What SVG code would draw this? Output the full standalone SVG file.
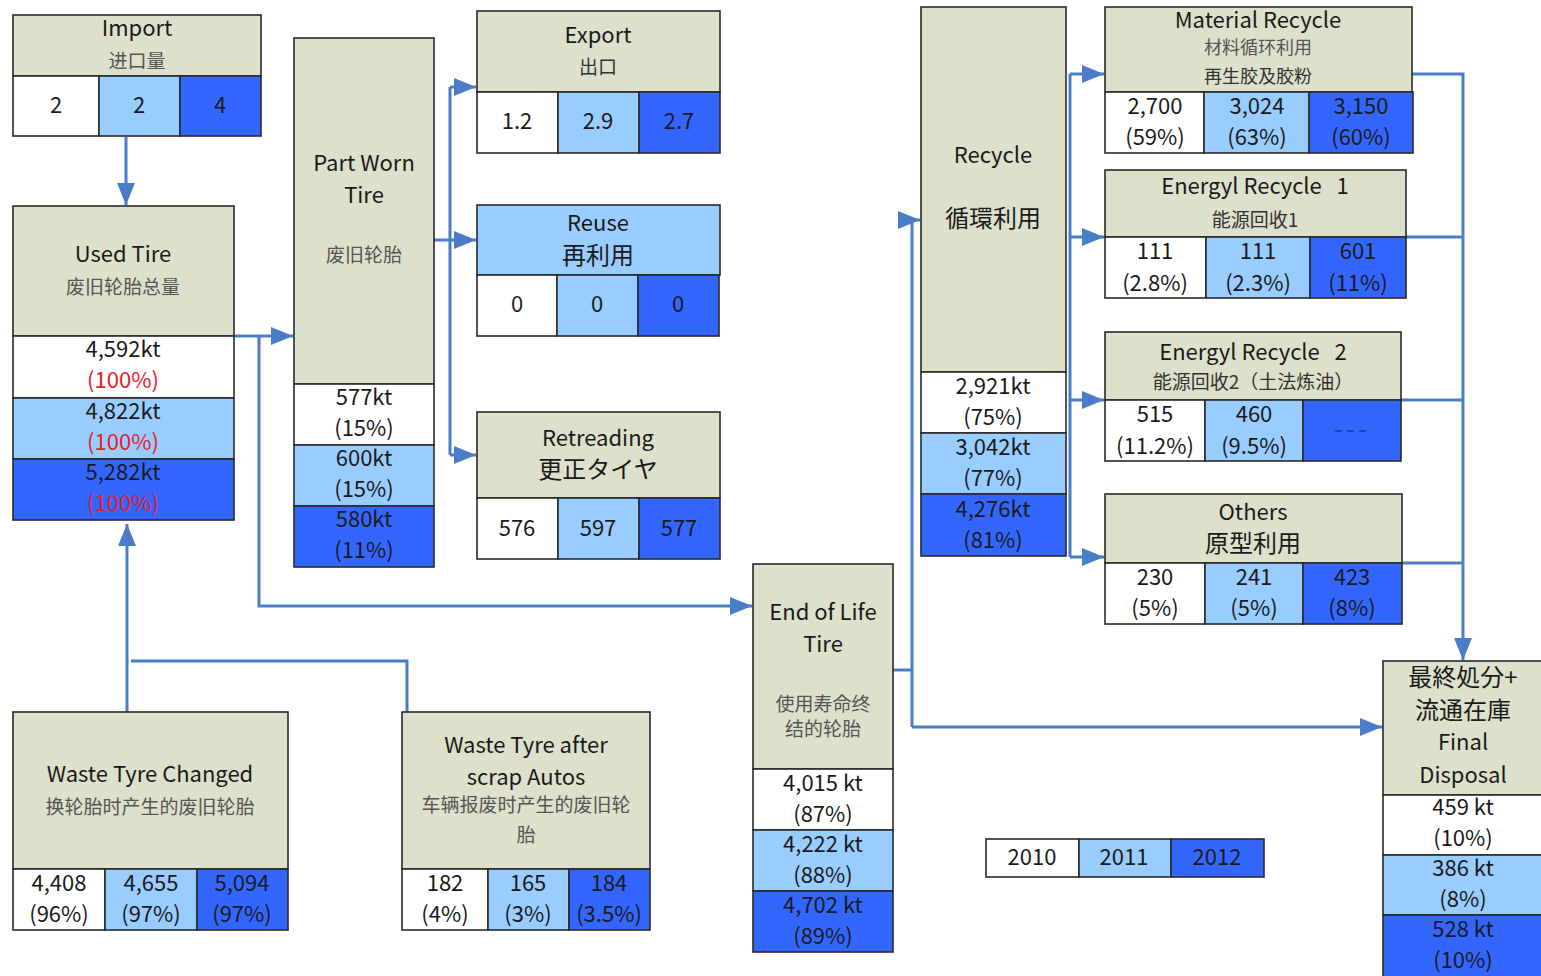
<svg xmlns="http://www.w3.org/2000/svg" width="1541" height="976" viewBox="0 0 1541 976">
<defs>
<style>
text{font-family:"Noto Sans CJK JP","Noto Sans CJK SC",sans-serif;text-anchor:middle;dominant-baseline:central;fill:#1a1a1a;font-size:22px;transform:translate(0px,-2px)}
.h{fill:#dde0cb;stroke:#2a2a2a;stroke-width:1.6}
.c0{fill:#ffffff;stroke:#2a2a2a;stroke-width:1.6}
.c1{fill:#99ccff;stroke:#2a2a2a;stroke-width:1.6}
.c2{fill:#3366ff;stroke:#2a2a2a;stroke-width:1.6}
.g{fill:#555;font-size:19px}
.d{fill:#333;font-size:19px}
.big{font-size:24px}
.red{fill:#e8202a}
.con path{fill:none;stroke:#4a7cc7;stroke-width:3}
</style>
<marker id="ah" markerUnits="userSpaceOnUse" markerWidth="22" markerHeight="18" refX="22" refY="9" orient="auto">
<path d="M0,0 L22,9 L0,18 z" fill="#4a7cc7"/>
</marker>
</defs>
<rect width="1541" height="976" fill="#ffffff"/>

<g class="con">
<path d="M126,137 V205" marker-end="url(#ah)"/>
<path d="M235,336 H293" marker-end="url(#ah)"/>
<path d="M259,336 V606 H752" marker-end="url(#ah)"/>
<path d="M434,240 H450"/>
<path d="M450,87 V455"/>
<path d="M450,87 H476" marker-end="url(#ah)"/>
<path d="M450,240 H476" marker-end="url(#ah)"/>
<path d="M450,455 H476" marker-end="url(#ah)"/>
<path d="M893,670 H912"/>
<path d="M912,727 V220 H920" marker-end="url(#ah)"/>
<path d="M912,727 H1382" marker-end="url(#ah)"/>
<path d="M1070,74 V557"/>
<path d="M1070,74 H1104" marker-end="url(#ah)"/>
<path d="M1070,237 H1104" marker-end="url(#ah)"/>
<path d="M1070,400 H1104" marker-end="url(#ah)"/>
<path d="M1070,557 H1104" marker-end="url(#ah)"/>
<path d="M1412,74 H1463 V660" marker-end="url(#ah)"/>
<path d="M1406,237 H1463"/>
<path d="M1401,400 H1463"/>
<path d="M1402,563 H1463"/>
<path d="M127,712 V524" marker-end="url(#ah)"/>
<path d="M407,712 V661 H131"/>
</g>

<g id="import">
<rect class="h" x="13" y="15" width="248" height="61"/>
<rect class="c0" x="13" y="76" width="86" height="60"/>
<rect class="c1" x="99" y="76" width="81" height="60"/>
<rect class="c2" x="180" y="76" width="81" height="60"/>
<text x="137" y="28">Import</text>
<text class="g" x="137" y="61">进口量</text>
<text x="56" y="105">2</text>
<text x="139" y="105">2</text>
<text x="220" y="105">4</text>
</g>

<g id="used-tire">
<rect class="h" x="13" y="206" width="221" height="130"/>
<rect class="c0" x="13" y="336" width="221" height="62"/>
<rect class="c1" x="13" y="398" width="221" height="61"/>
<rect class="c2" x="13" y="459" width="221" height="61"/>
<text x="123" y="254">Used Tire</text>
<text class="g" x="123" y="287">废旧轮胎总量</text>
<text x="123" y="349">4,592kt</text>
<text class="red" x="123" y="380">(100%)</text>
<text x="123" y="411">4,822kt</text>
<text class="red" x="123" y="442">(100%)</text>
<text x="123" y="472">5,282kt</text>
<text class="red" x="123" y="503">(100%)</text>
</g>

<g id="part-worn">
<rect class="h" x="294" y="38" width="140" height="346"/>
<rect class="c0" x="294" y="384" width="140" height="61"/>
<rect class="c1" x="294" y="445" width="140" height="61"/>
<rect class="c2" x="294" y="506" width="140" height="61"/>
<text x="364" y="163">Part Worn</text>
<text x="364" y="195">Tire</text>
<text class="g" x="364" y="255">废旧轮胎</text>
<text x="364" y="397">577kt</text>
<text x="364" y="428">(15%)</text>
<text x="364" y="458">600kt</text>
<text x="364" y="489">(15%)</text>
<text x="364" y="519">580kt</text>
<text x="364" y="550">(11%)</text>
</g>

<g id="export">
<rect class="h" x="477" y="11" width="243" height="81"/>
<rect class="c0" x="477" y="92" width="81" height="61"/>
<rect class="c1" x="558" y="92" width="81" height="61"/>
<rect class="c2" x="639" y="92" width="81" height="61"/>
<text x="598" y="35">Export</text>
<text class="d" x="598" y="67">出口</text>
<text x="517" y="121">1.2</text>
<text x="598" y="121">2.9</text>
<text x="679" y="121">2.7</text>
</g>

<g id="reuse">
<rect class="c1" x="477" y="205" width="243" height="70"/>
<rect class="c0" x="477" y="275" width="80" height="61"/>
<rect class="c1" x="557" y="275" width="81" height="61"/>
<rect class="c2" x="638" y="275" width="81" height="61"/>
<text x="598" y="223">Reuse</text>
<text class="big" x="598" y="255">再利用</text>
<text x="517" y="304">0</text>
<text x="597" y="304">0</text>
<text x="678" y="304">0</text>
</g>

<g id="retreading">
<rect class="h" x="477" y="412" width="243" height="86"/>
<rect class="c0" x="477" y="498" width="81" height="61"/>
<rect class="c1" x="558" y="498" width="81" height="61"/>
<rect class="c2" x="639" y="498" width="81" height="61"/>
<text x="598" y="438">Retreading</text>
<text class="big" x="598" y="469">更正タイヤ</text>
<text x="517" y="528">576</text>
<text x="598" y="528">597</text>
<text x="679" y="528">577</text>
</g>

<g id="end-of-life">
<rect class="h" x="753" y="564" width="140" height="205"/>
<rect class="c0" x="753" y="769" width="140" height="61"/>
<rect class="c1" x="753" y="830" width="140" height="61"/>
<rect class="c2" x="753" y="891" width="140" height="61"/>
<text x="823" y="612">End of Life</text>
<text x="823" y="644">Tire</text>
<text class="g" x="823" y="704">使用寿命终</text>
<text class="g" x="823" y="729">结的轮胎</text>
<text x="823" y="783">4,015 kt</text>
<text x="823" y="814">(87%)</text>
<text x="823" y="844">4,222 kt</text>
<text x="823" y="875">(88%)</text>
<text x="823" y="905">4,702 kt</text>
<text x="823" y="936">(89%)</text>
</g>

<g id="recycle">
<rect class="h" x="921" y="7" width="145" height="365"/>
<rect class="c0" x="921" y="372" width="145" height="61"/>
<rect class="c1" x="921" y="433" width="145" height="61"/>
<rect class="c2" x="921" y="494" width="145" height="62"/>
<text x="993" y="155">Recycle</text>
<text class="big" x="993" y="218">循環利用</text>
<text x="993" y="386">2,921kt</text>
<text x="993" y="417">(75%)</text>
<text x="993" y="447">3,042kt</text>
<text x="993" y="478">(77%)</text>
<text x="993" y="509">4,276kt</text>
<text x="993" y="540">(81%)</text>
</g>

<g id="material-recycle">
<rect class="h" x="1105" y="7" width="307" height="85"/>
<rect class="c0" x="1105" y="92" width="99" height="61"/>
<rect class="c1" x="1204" y="92" width="105" height="61"/>
<rect class="c2" x="1309" y="92" width="104" height="61"/>
<text x="1258" y="20">Material Recycle</text>
<text class="g" x="1258" y="48" style="font-size:18px">材料循环利用</text>
<text class="d" x="1258" y="77" style="font-size:18px">再生胶及胶粉</text>
<text x="1155" y="106">2,700</text>
<text x="1155" y="137">(59%)</text>
<text x="1257" y="106">3,024</text>
<text x="1257" y="137">(63%)</text>
<text x="1361" y="106">3,150</text>
<text x="1361" y="137">(60%)</text>
</g>

<g id="energy-recycle-1">
<rect class="h" x="1105" y="170" width="301" height="67"/>
<rect class="c0" x="1105" y="237" width="101" height="61"/>
<rect class="c1" x="1206" y="237" width="104" height="61"/>
<rect class="c2" x="1310" y="237" width="96" height="61"/>
<text x="1255" y="186" xml:space="preserve">Energyl Recycle   1</text>
<text class="d" x="1255" y="220">能源回收1</text>
<text x="1155" y="251">111</text>
<text x="1155" y="283">(2.8%)</text>
<text x="1258" y="251">111</text>
<text x="1258" y="283">(2.3%)</text>
<text x="1358" y="251">601</text>
<text x="1358" y="283">(11%)</text>
</g>

<g id="energy-recycle-2">
<rect class="h" x="1105" y="332" width="296" height="68"/>
<rect class="c0" x="1105" y="400" width="100" height="61"/>
<rect class="c1" x="1205" y="400" width="98" height="61"/>
<rect class="c2" x="1303" y="400" width="98" height="61"/>
<text x="1253" y="352" xml:space="preserve">Energyl Recycle   2</text>
<text class="d" x="1253" y="382">能源回收2（土法炼油）</text>
<text x="1155" y="414">515</text>
<text x="1155" y="446">(11.2%)</text>
<text x="1254" y="414">460</text>
<text x="1254" y="446">(9.5%)</text>
<text x="1352" y="428" style="fill:#1e3fb0;font-size:26px;letter-spacing:3px">---</text>
</g>

<g id="others">
<rect class="h" x="1105" y="494" width="297" height="69"/>
<rect class="c0" x="1105" y="563" width="100" height="61"/>
<rect class="c1" x="1205" y="563" width="98" height="61"/>
<rect class="c2" x="1303" y="563" width="99" height="61"/>
<text x="1253" y="512">Others</text>
<text class="big" x="1253" y="543">原型利用</text>
<text x="1155" y="577">230</text>
<text x="1155" y="608">(5%)</text>
<text x="1254" y="577">241</text>
<text x="1254" y="608">(5%)</text>
<text x="1352" y="577">423</text>
<text x="1352" y="608">(8%)</text>
</g>

<g id="final-disposal">
<rect class="h" x="1383" y="661" width="162" height="134"/>
<rect class="c0" x="1383" y="795" width="162" height="60"/>
<rect class="c1" x="1383" y="855" width="162" height="60"/>
<rect class="c2" x="1383" y="915" width="162" height="65"/>
<text class="big" x="1463" y="677">最終処分+</text>
<text class="big" x="1463" y="710">流通在庫</text>
<text x="1463" y="742">Final</text>
<text x="1463" y="775">Disposal</text>
<text x="1463" y="807">459 kt</text>
<text x="1463" y="838">(10%)</text>
<text x="1463" y="868">386 kt</text>
<text x="1463" y="899">(8%)</text>
<text x="1463" y="929">528 kt</text>
<text x="1463" y="960">(10%)</text>
</g>

<g id="waste-tyre-changed">
<rect class="h" x="13" y="712" width="275" height="157"/>
<rect class="c0" x="13" y="869" width="92" height="61"/>
<rect class="c1" x="105" y="869" width="92" height="61"/>
<rect class="c2" x="197" y="869" width="91" height="61"/>
<text x="150" y="774">Waste Tyre Changed</text>
<text class="g" x="150" y="807">换轮胎时产生的废旧轮胎</text>
<text x="59" y="883">4,408</text>
<text x="59" y="914">(96%)</text>
<text x="151" y="883">4,655</text>
<text x="151" y="914">(97%)</text>
<text x="242" y="883">5,094</text>
<text x="242" y="914">(97%)</text>
</g>

<g id="waste-tyre-autos">
<rect class="h" x="402" y="712" width="248" height="157"/>
<rect class="c0" x="402" y="869" width="86" height="61"/>
<rect class="c1" x="488" y="869" width="81" height="61"/>
<rect class="c2" x="569" y="869" width="81" height="61"/>
<text x="526" y="745">Waste Tyre after</text>
<text x="526" y="777">scrap Autos</text>
<text class="g" x="526" y="805">车辆报废时产生的废旧轮</text>
<text class="g" x="526" y="835">胎</text>
<text x="445" y="883">182</text>
<text x="445" y="914">(4%)</text>
<text x="528" y="883">165</text>
<text x="528" y="914">(3%)</text>
<text x="609" y="883">184</text>
<text x="609" y="914">(3.5%)</text>
</g>

<g id="legend">
<rect class="c0" x="986" y="839" width="93" height="38"/>
<rect class="c1" x="1079" y="839" width="92" height="38"/>
<rect class="c2" x="1171" y="839" width="93" height="38"/>
<text x="1032" y="857">2010</text>
<text x="1124" y="857">2011</text>
<text x="1217" y="857">2012</text>
</g>
</svg>
